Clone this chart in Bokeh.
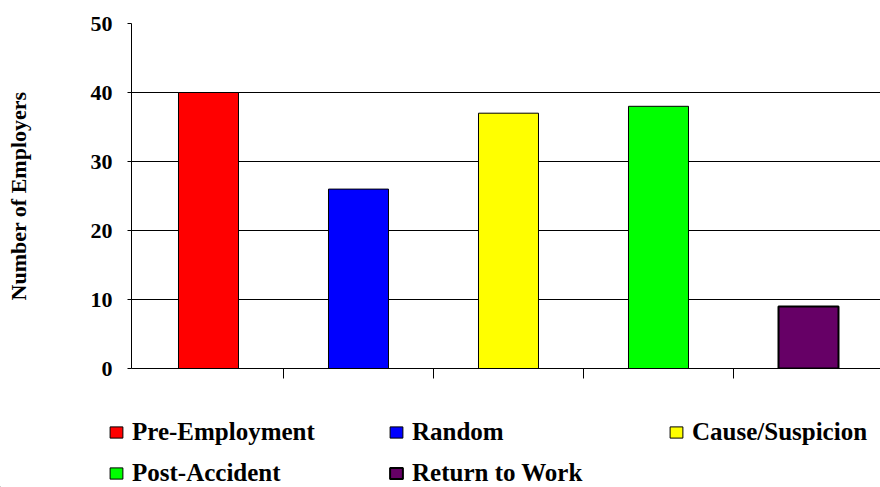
import numpy as np
from bokeh.plotting import figure
from bokeh.models import (ColumnDataSource, Range1d, FixedTicker, Legend, LegendItem)
from bokeh.embed import file_html
from bokeh.resources import INLINE

categories = ["Pre-Employment", "Random", "Cause/Suspicion", "Post-Accident", "Return to Work"]
counts = [40, 26, 37, 38, 9]
colors = ["#FF0000", "#0000FF", "#FFFF00", "#00FF00", "#660066"]
outline_widths = [1, 1, 1, 1, 2]
y_ticks = [0, 10, 20, 30, 40, 50]

FONT = "Liberation Serif"

src = ColumnDataSource(dict(
    x=np.arange(len(categories)) + 0.5,
    top=counts,
    color=colors,
    lw=outline_widths,
    label=categories,
))

p = figure(width=880, height=407, output_backend="svg", toolbar_location=None,
           x_range=Range1d(-0.0133, 4.98), y_range=Range1d(0, 50),
           min_border_left=131, min_border_right=0, min_border_top=23,
           min_border_bottom=39)
p.outline_line_color = None
p.background_fill_color = "white"
p.border_fill_color = "white"

r = p.vbar(x="x", top="top", width=0.4, bottom=0, fill_color="color",
           line_color="black", line_width="lw", source=src)

p.yaxis.ticker = FixedTicker(ticks=y_ticks)
p.yaxis.axis_line_color = "black"
p.yaxis.major_tick_line_color = "black"
p.yaxis.major_tick_in = 0
p.yaxis.major_tick_out = 4
p.yaxis.minor_tick_line_color = None
p.yaxis.major_label_text_font = FONT
p.yaxis.major_label_text_font_style = "bold"
p.yaxis.major_label_text_font_size = "22px"
p.yaxis.major_label_text_color = "black"
p.yaxis.major_label_standoff = 15
p.yaxis.axis_label = "Number of Employers"
p.yaxis.axis_label_text_font = FONT
p.yaxis.axis_label_text_font_style = "bold"
p.yaxis.axis_label_text_font_size = "22px"
p.yaxis.axis_label_text_color = "black"
p.yaxis.axis_label_standoff = 57

p.xaxis.ticker = FixedTicker(ticks=list(range(1, len(categories))))
p.xaxis.axis_line_color = "black"
p.xaxis.major_tick_line_color = "black"
p.xaxis.major_tick_in = 0
p.xaxis.major_tick_out = 10
p.xaxis.minor_tick_line_color = None
p.xaxis.major_label_text_font_size = "0px"
p.xaxis.major_label_text_alpha = 0

p.xgrid.grid_line_color = None
p.ygrid.grid_line_color = "black"
p.ygrid.grid_line_width = 1

# legend strip below the chart (separate root so its frame is not aligned)
p2 = figure(width=880, height=80, output_backend="svg", toolbar_location=None,
            x_range=Range1d(100, 110), y_range=Range1d(1000, 1001),
            x_axis_location=None, y_axis_location=None,
            min_border=0, min_border_left=0, min_border_right=0,
            min_border_top=0, min_border_bottom=0)
p2.grid.visible = False
p2.outline_line_color = None
p2.background_fill_color = "white"
p2.border_fill_color = "white"
r2 = p2.vbar(x="x", top="top", width=0.4, bottom=0, fill_color="color",
             line_color="black", line_width="lw", source=src)

items = [LegendItem(label=c, renderers=[r2], index=i) for i, c in enumerate(categories)]
legend = Legend(items=items, location=(108, 0), ncols=3, orientation="horizontal",
                glyph_width=16, glyph_height=14, label_standoff=8, label_width=243,
                label_height=24, spacing=13, padding=0, margin=0,
                border_line_color=None, background_fill_alpha=0,
                label_text_font=FONT, label_text_font_style="bold",
                label_text_font_size="25px", label_text_color="black")
p2.add_layout(legend, "center")

open("out.html", "w").write(file_html([p, p2], INLINE))
